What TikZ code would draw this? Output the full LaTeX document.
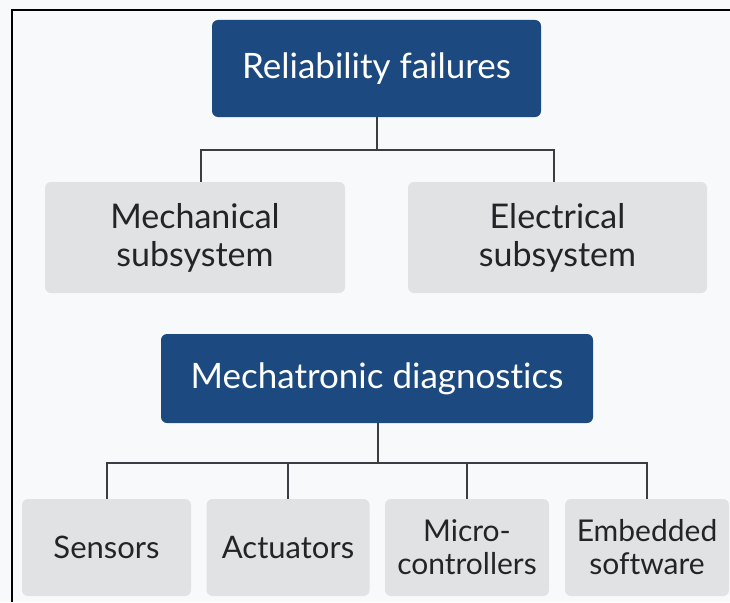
\documentclass[tikz,border=0pt]{standalone}
\usepackage{fontspec}
\setmainfont{Lato}[Ligatures={NoCommon}]
\definecolor{navy}{HTML}{1C4A80}
\definecolor{boxgray}{HTML}{E1E2E4}
\definecolor{linegray}{HTML}{3A3D42}
\definecolor{bg}{HTML}{F8F9FA}
\definecolor{txt}{HTML}{222428}
\begin{document}
\begin{tikzpicture}[x=1pt,y=-1pt,
  headbox/.style={fill=navy,rounded corners=6pt,text=white,font=\fontsize{35}{40}\selectfont,align=center,inner sep=0pt},
  subbox/.style={fill=boxgray,rounded corners=6pt,text=txt,font=\fontsize{34}{38}\selectfont,align=center,inner sep=0pt},
  leafbox/.style={fill=boxgray,rounded corners=6pt,text=txt,font=\fontsize{31}{33}\selectfont,align=center,inner sep=0pt},
  leaftwo/.style={leafbox,font=\fontsize{30}{33}\selectfont},
  conn/.style={draw=linegray,line width=2pt}]
\fill[bg] (0,0) rectangle (730,602);
\useasboundingbox (0,0) rectangle (730,602);
\draw[black,line width=1.5pt] (12,602) -- (12,10) -- (730,10);
% top
\node[headbox,minimum width=329pt,minimum height=97pt] (rel) at (376.5,68.5) {Reliability failures};
\node[subbox,minimum width=300pt,minimum height=111pt] (mech) at (195,237.5) {Mechanical\\subsystem};
\node[subbox,minimum width=299pt,minimum height=111pt] (elec) at (557.5,237.5) {Electrical\\subsystem};
\coordinate (j1) at (376.5,150);
\draw[conn] (rel.south) -- (j1);
\draw[conn] (mech.north -| 201,0) |- (j1) -| (elec.north -| 554,0);
% bottom
\node[headbox,minimum width=432pt,minimum height=89pt] (mdiag) at (377,378.5) {Mechatronic diagnostics};
\node[leafbox,minimum width=169pt,minimum height=97pt] (sens) at (106.5,547.5) {Sensors};
\node[leafbox,minimum width=163pt,minimum height=97pt] (act) at (288,547.5) {Actuators};
\node[leaftwo,minimum width=164pt,minimum height=97pt] (micro) at (467,547.5) {Micro-\\controllers};
\node[leaftwo,minimum width=164pt,minimum height=97pt] (emb) at (647,547.5) {Embedded\\software};
\coordinate (j2) at (378,463);
\draw[conn] (mdiag.south -| j2) -- (j2);
\draw[conn] (sens.north) |- (j2) -| (emb.north);
\draw[conn] (act.north) -- (act.north |- j2);
\draw[conn] (micro.north) -- (micro.north |- j2);
\end{tikzpicture}
\end{document}
